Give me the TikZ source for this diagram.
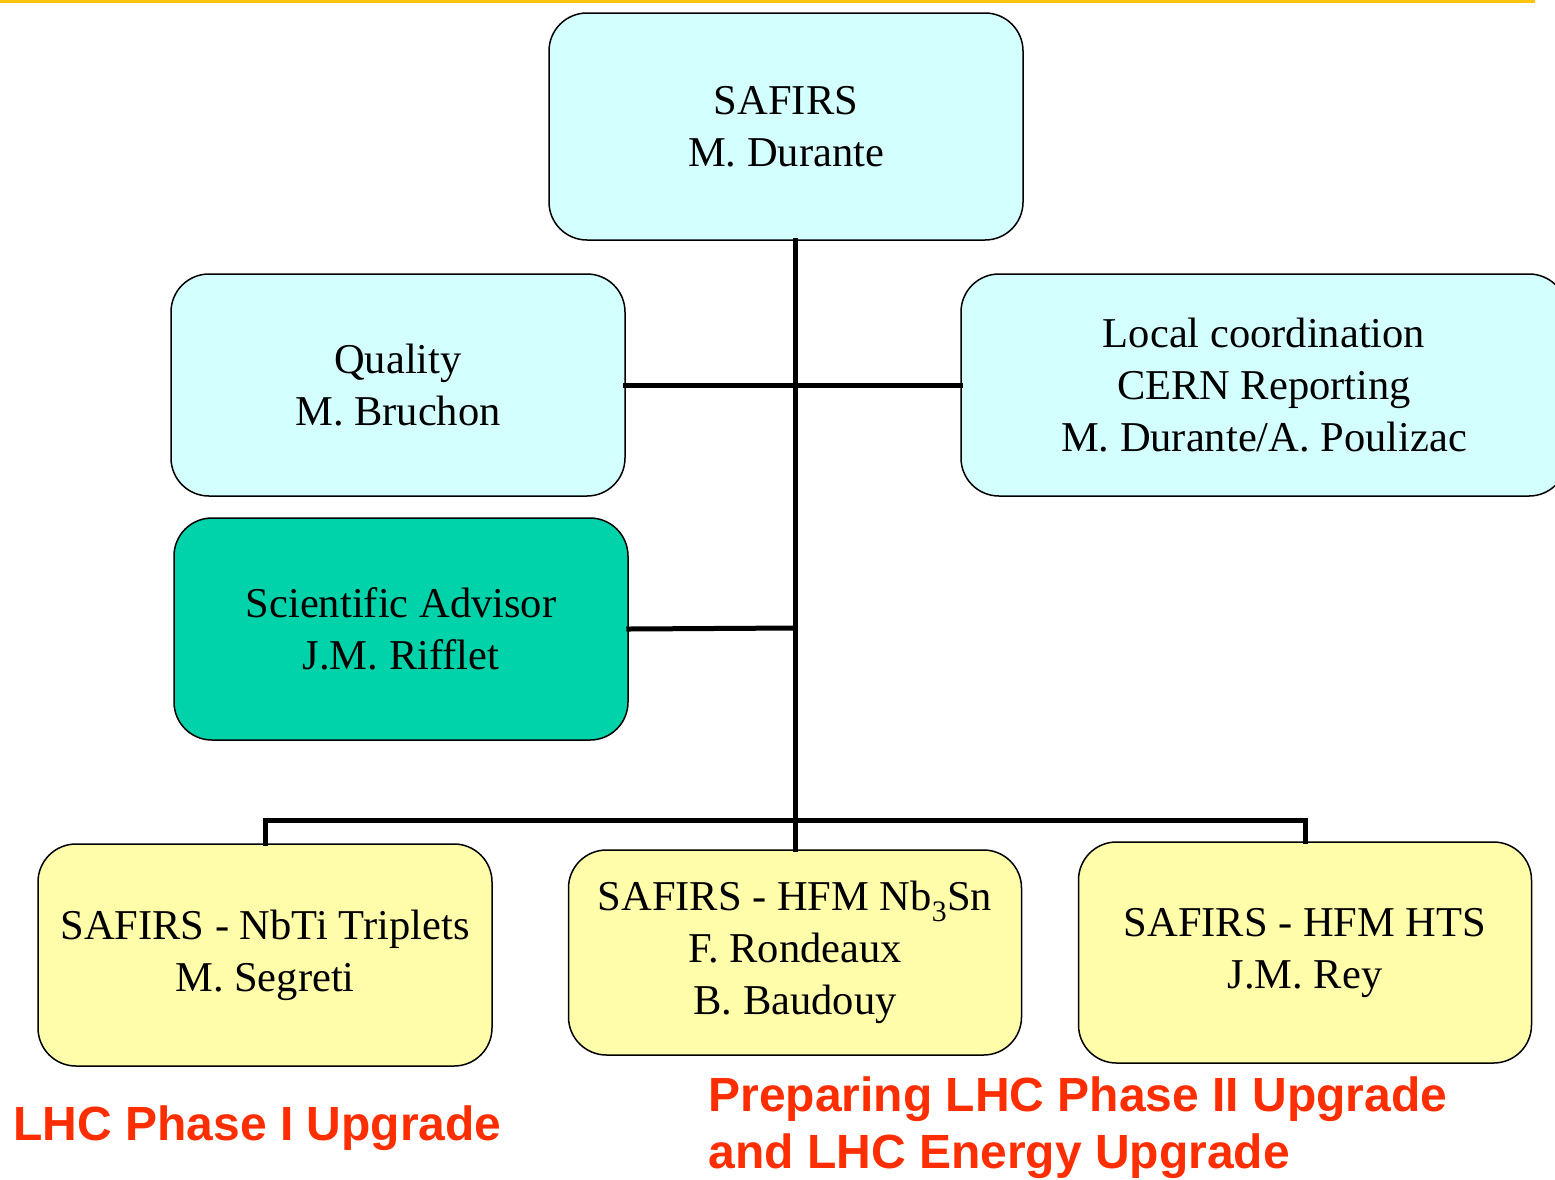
\documentclass[tikz,border=0pt]{standalone}
\usepackage{fontspec}
\setmainfont{Liberation Serif}
\newfontfamily\notefont{Liberation Sans}
\usepackage{xcolor}
\usepackage{tikz}
\definecolor{cpale}{HTML}{D4FFFF}
\definecolor{cteal}{HTML}{00D2AA}
\definecolor{cbutter}{HTML}{FFFCAA}
\definecolor{cnote}{HTML}{FF2E00}
\definecolor{crule}{HTML}{FFC20E}
\tikzset{
  unit/.style={draw=black,line width=1.5pt,rounded corners=38pt,inner sep=0pt,
    align=center,font=\fontsize{42.5}{52}\selectfont,text=black},
  tie/.style={line width=5pt,line cap=rect},
  note/.style={anchor=west,align=left,text=cnote,
    font=\notefont\bfseries\fontsize{48}{57}\selectfont}
}

\begin{document}
\begin{tikzpicture}[x=1pt,y=-1pt]
\useasboundingbox (0,0) rectangle (1555,1179);

% ============ top rule ============
\draw[crule,line width=3pt] (0,1) -- (1535,1);

% ============ management ============
\node[unit,fill=cpale,minimum width=474pt,minimum height=227pt] (head) at (786,126.5)
  {SAFIRS\\ M. Durante};
\node[unit,fill=cpale,minimum width=454pt,minimum height=222pt] (quality) at (398,385)
  {Quality\\ M. Bruchon};
\node[unit,fill=cpale,minimum width=606pt,minimum height=222pt] (local) at (1264,385)
  {Local coordination\\ CERN Reporting\\ M. Durante/A. Poulizac};
\node[unit,fill=cteal,minimum width=454pt,minimum height=222pt] (advisor) at (401,629)
  {Scientific Advisor\\ J.M. Rifflet};

% ============ projects ============
\node[unit,fill=cbutter,minimum width=454pt,minimum height=222pt] (nbti) at (265,955)
  {SAFIRS - NbTi Triplets\\ M. Segreti};
\node[unit,fill=cbutter,minimum width=453pt,minimum height=205pt] (nbsn) at (795,952.5)
  {SAFIRS - HFM Nb\textsubscript{3}Sn\\ F. Rondeaux\\ B. Baudouy};
\node[unit,fill=cbutter,minimum width=453pt,minimum height=221pt] (hts) at (1305,952.5)
  {SAFIRS - HFM HTS\\ J.M. Rey};

% ============ links ============
\coordinate (hub) at (795,384);
\coordinate (sci) at (795,628);
\coordinate (bus) at (795,820);
\draw[tie] (bus |- head.south) -- (bus);
\draw[tie] (quality.east) -- (local.west);
\draw[tie] (advisor.east) -- (sci);
\draw[tie] (nbti.north) -- (nbti.north |- bus) -- (hts.north |- bus) -- (hts.north);
\draw[tie] (bus) -- (nbsn.north);

% ============ programme notes ============
\node[note] (phase1) at (10,1128) {LHC Phase I Upgrade};
\node[note] (phase2) at (705,1127.5) {Preparing LHC Phase II Upgrade\\ and LHC Energy Upgrade};

\end{tikzpicture}
\end{document}
